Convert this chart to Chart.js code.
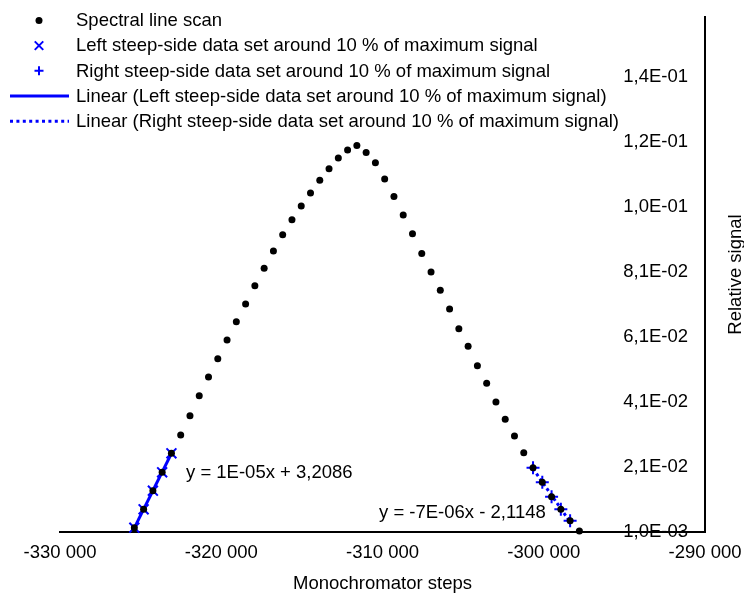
<!DOCTYPE html>
<html>
<head>
<meta charset="utf-8">
<script src="https://cdn.jsdelivr.net/npm/chart.js@4/dist/chart.umd.min.js"></script>
<style>
  html, body { margin: 0; padding: 0; background: #fff; }
  #wrap { width: 744px; height: 593px; }
</style>
</head>
<body>
<div id="wrap"><canvas id="scanChart" width="744" height="593"></canvas></div>
<script>
// Monochromator scan of one spectral line, steps vs relative signal
const scanSteps = [
    -325390, -324815, -324240, -323665, -323090, -322515, -321940, -321365, -320790, -320215,
    -319640, -319065, -318490, -317915, -317340, -316765, -316190, -315615, -315040, -314465,
    -313890, -313315, -312740, -312165, -311590, -311015, -310440, -309865, -309290, -308715,
    -308140, -307565, -306990, -306415, -305840, -305265, -304690, -304115, -303540, -302965,
    -302390, -301815, -301240, -300665, -300090, -299515, -298940, -298365, -297790
];
const scanSignal = [
    0.00232, 0.00798, 0.01371, 0.01937, 0.02522, 0.03085, 0.03678, 0.04294, 0.04869, 0.05432,
    0.06008, 0.06571, 0.07115, 0.07678, 0.08214, 0.08746, 0.09248, 0.09709, 0.10131, 0.10531,
    0.10922, 0.11278, 0.11608, 0.11854, 0.11998, 0.11783, 0.11463, 0.10962, 0.10429, 0.09854,
    0.09278, 0.08675, 0.08100, 0.07537, 0.06962, 0.06355, 0.05814, 0.05217, 0.04675, 0.04100,
    0.03568, 0.03054, 0.02540, 0.02078, 0.01629, 0.01186, 0.00798, 0.00448, 0.00130
];

// steep sides, around 10 % of the maximum
const leftSteps = [-325390, -324815, -324240, -323665, -323090];
const leftSignal = [0.00232, 0.00798, 0.01371, 0.01937, 0.02522];
const rightSteps = [-300665, -300090, -299515, -298940, -298365];
const rightSignal = [0.02078, 0.01629, 0.01186, 0.00798, 0.00448];

// linear trend lines (end points)
const leftFitSteps = [-325390, -323090];
const leftFitSignal = [0.00228, 0.02516];
const rightFitSteps = [-300665, -298365];
const rightFitSignal = [0.02046, 0.00410];

const fitEquations = ['y = 1E-05x + 3,2086', 'y = -7E-06x - 2,1148'];
const fitEquationSteps = [-322186, -310217];
const fitEquationSignal = [0.01915, 0.00685];

const xTickValues = [-330000, -320000, -310000, -300000, -290000];
const xTickLabels = ['-330 000', '-320 000', '-310 000', '-300 000', '-290 000'];
const yTickValues = [0.001, 0.021, 0.041, 0.061, 0.081, 0.101, 0.121, 0.141];
const yTickLabels = ['1,0E-03', '2,1E-02', '4,1E-02', '6,1E-02', '8,1E-02', '1,0E-01', '1,2E-01', '1,4E-01'];

const legendLabels = [
    'Spectral line scan',
    'Left steep-side data set around 10 % of maximum signal',
    'Right steep-side data set around 10 % of maximum signal',
    'Linear (Left steep-side data set around 10 % of maximum signal)',
    'Linear (Right steep-side data set around 10 % of maximum signal)'
];

const BLUE = '#0000ff';
const FONT = "'Liberation Sans', Arial, sans-serif";
const FONT_SIZE = 18.5;

function toPoints(xs, ys) {
    return xs.map((x, i) => ({ x: x, y: ys[i] }));
}

function drawMarker(ctx, style, x, y, r) {
    ctx.beginPath();
    if (style === 'circle') {
        ctx.fillStyle = '#000';
        ctx.arc(x, y, r, 0, Math.PI * 2);
        ctx.fill();
        return;
    }
    ctx.strokeStyle = BLUE;
    ctx.lineWidth = 2;
    if (style === 'crossRot') {
        const d = r * Math.SQRT1_2;
        ctx.moveTo(x - d, y - d); ctx.lineTo(x + d, y + d);
        ctx.moveTo(x - d, y + d); ctx.lineTo(x + d, y - d);
    } else {
        ctx.moveTo(x - r, y); ctx.lineTo(x + r, y);
        ctx.moveTo(x, y - r); ctx.lineTo(x, y + r);
    }
    ctx.stroke();
}

// legend, fit equations and the right-hand axis title
const annotations = {
    id: 'annotations',
    afterDraw(chart) {
        const ctx = chart.ctx;
        const xs = chart.scales.x, ys = chart.scales.y;
        ctx.save();
        ctx.font = FONT_SIZE + 'px ' + FONT;
        ctx.fillStyle = '#000';
        ctx.textBaseline = 'alphabetic';
        ctx.textAlign = 'left';

        const rowBase = 26.2, rowGap = 25.2, markX = 39, textX = 76;
        legendLabels.forEach((label, i) => {
            const base = rowBase + i * rowGap;
            const my = base - 5.8;
            if (i === 0) drawMarker(ctx, 'circle', markX, my, 3.5);
            if (i === 1) drawMarker(ctx, 'crossRot', markX, my, 6);
            if (i === 2) drawMarker(ctx, 'cross', markX, my, 4.5);
            if (i >= 3) {
                ctx.beginPath();
                ctx.strokeStyle = BLUE;
                ctx.lineWidth = 3;
                ctx.setLineDash(i === 4 ? [3, 3.4] : []);
                ctx.moveTo(10, my);
                ctx.lineTo(69, my);
                ctx.stroke();
                ctx.setLineDash([]);
            }
            ctx.fillStyle = '#000';
            ctx.fillText(label, textX, base);
        });

        ctx.textBaseline = 'middle';
        fitEquations.forEach((text, i) => {
            ctx.fillText(text, xs.getPixelForValue(fitEquationSteps[i]), ys.getPixelForValue(fitEquationSignal[i]));
        });

        ctx.translate(736, (chart.chartArea.top + chart.chartArea.bottom) / 2);
        ctx.rotate(-Math.PI / 2);
        ctx.textAlign = 'center';
        ctx.fillText('Relative signal', 0, 0);
        ctx.restore();
    }
};

new Chart(document.getElementById('scanChart').getContext('2d'), {
    type: 'scatter',
    data: {
        datasets: [
            {
                label: legendLabels[0],
                data: toPoints(scanSteps, scanSignal),
                pointStyle: 'circle',
                pointRadius: 3.5,
                pointBackgroundColor: '#000',
                pointBorderWidth: 0,
                clip: false
            },
            {
                label: legendLabels[1],
                data: toPoints(leftSteps, leftSignal),
                pointStyle: 'crossRot',
                pointRadius: 7,
                pointBorderColor: BLUE,
                pointBorderWidth: 2,
                clip: false
            },
            {
                label: legendLabels[2],
                data: toPoints(rightSteps, rightSignal),
                pointStyle: 'cross',
                pointRadius: 6.5,
                pointBorderColor: BLUE,
                pointBorderWidth: 2,
                clip: false
            },
            {
                label: legendLabels[3],
                data: toPoints(leftFitSteps, leftFitSignal),
                showLine: true,
                pointRadius: 0,
                borderColor: BLUE,
                borderWidth: 3,
                clip: false
            },
            {
                label: legendLabels[4],
                data: toPoints(rightFitSteps, rightFitSignal),
                showLine: true,
                pointRadius: 0,
                borderColor: BLUE,
                borderWidth: 3,
                borderDash: [3, 3],
                clip: false
            }
        ]
    },
    options: {
        responsive: false,
        animation: false,
        events: [],
        layout: { padding: { left: 60, right: 39, top: 17, bottom: 0 } },
        plugins: {
            legend: { display: false },
            tooltip: { enabled: false }
        },
        scales: {
            x: {
                type: 'linear',
                position: 'bottom',
                min: -330000,
                max: -290000,
                afterBuildTicks: scale => { scale.ticks = xTickValues.map(v => ({ value: v })); },
                afterFit: scale => { scale.height = 61; scale.paddingLeft = 0; scale.paddingRight = 0; },
                grid: { display: false, drawTicks: false },
                border: { display: true, color: '#000', width: 2 },
                ticks: {
                    padding: 10,
                    color: '#000',
                    font: { family: FONT, size: FONT_SIZE },
                    maxRotation: 0,
                    callback: (value, index) => xTickLabels[index]
                },
                title: {
                    display: true,
                    text: 'Monochromator steps',
                    color: '#000',
                    font: { family: FONT, size: FONT_SIZE },
                    padding: { top: 0, bottom: -2 }
                }
            },
            y: {
                type: 'linear',
                position: 'right',
                min: 0.001,
                max: 0.1595,
                afterBuildTicks: scale => { scale.ticks = yTickValues.map(v => ({ value: v })); },
                afterFit: scale => { scale.width = 0; scale.paddingTop = 0; scale.paddingBottom = 0; },
                grid: { display: false, drawTicks: false },
                border: { display: true, color: '#000', width: 2 },
                ticks: {
                    mirror: true,
                    padding: -17,
                    color: '#000',
                    font: { family: FONT, size: FONT_SIZE },
                    callback: (value, index) => yTickLabels[index]
                }
            }
        }
    },
    plugins: [annotations]
});
</script>
</body>
</html>
